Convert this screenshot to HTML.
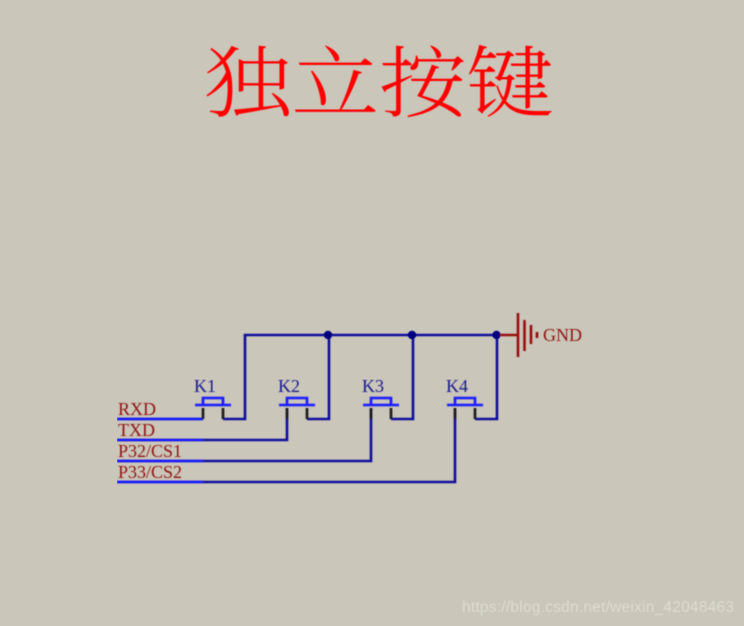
<!DOCTYPE html>
<html><head><meta charset="utf-8"><style>
html,body{margin:0;padding:0;background:#cac6b9;width:744px;height:626px;overflow:hidden}
svg{display:block}
.s{font-family:"Liberation Serif",serif;font-size:18px}
</style></head><body>
<svg width="744" height="626" viewBox="0 0 744 626" xmlns="http://www.w3.org/2000/svg">
<defs><filter id="b" x="0" y="0" width="100%" height="100%"><feGaussianBlur stdDeviation="0.45"/></filter></defs>
<rect width="744" height="626" fill="#cac6b9"/>
<g filter="url(#b)">
<text transform="translate(204 110.500) scale(1 0.88)" x="0" y="0" font-family="'Liberation Serif','Noto Serif CJK SC',serif" font-size="88" font-weight="300" fill="#ff0000" textLength="350">独立按键</text>
<g fill="none" stroke="#10109a" stroke-width="2.600">
<path d="M223 419H245V335H497V419H475"/>
<path d="M329 335V419H307"/>
<path d="M413 335V419H391"/>
<path d="M203 419H117"/>
<path d="M287 408V440H117"/>
<path d="M371 408V461H117"/>
<path d="M455 408V482H117"/>
</g>
<g fill="#000080"><circle cx="328" cy="335" r="4.200"/><circle cx="412" cy="335" r="4.200"/><circle cx="496.500" cy="335" r="4.200"/></g>
<g stroke="#1a1aff" stroke-width="2.600" fill="none">
<path d="M117 419H203M117 440H203M117 461H203M117 482H203"/>
<path d="M195 405H231M203 405V398H223V405"/>
<path d="M279 405H315M287 405V398H307V405"/>
<path d="M363 405H399M371 405V398H391V405"/>
<path d="M447 405H483M455 405V398H475V405"/>
</g>
<g stroke="#1a1a1a" stroke-width="2.600" fill="none">
<path d="M203 408V419M223 408V419M287 408V419M307 408V419M371 408V419M391 408V419M455 408V419M475 408V419"/>
</g>
<g stroke="#990f0f" stroke-width="2.600" fill="none">
<path d="M500 335H518M518 313V357M524.500 320V351M531 325V344M537 332V338"/>
</g>
<g class="s" fill="#1a1a8c">
<text x="194" y="392">K1</text><text x="278" y="392">K2</text><text x="362" y="392">K3</text><text x="446" y="392">K4</text>
</g>
<g class="s" fill="#8f1414">
<text x="118" y="415">RXD</text>
<text x="118" y="436">TXD</text>
<text x="118" y="457">P32/CS1</text>
<text x="118" y="478">P33/CS2</text>
<text x="543" y="341">GND</text>
</g>
<text x="462" y="612" font-family="'Liberation Sans',sans-serif" font-size="15.500" fill="#dedbd2" textLength="272">https://blog.csdn.net/weixin_42048463</text>
</g>
</svg>
</body></html>
